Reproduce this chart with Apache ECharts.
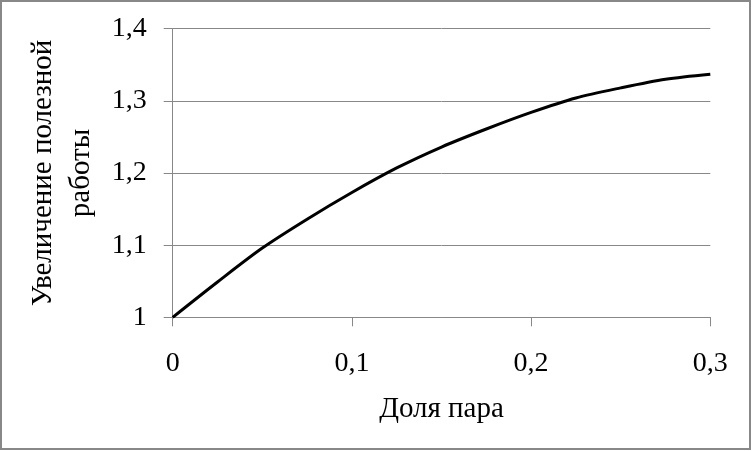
<!DOCTYPE html>
<html>
<head>
<meta charset="utf-8">
<script src="https://cdn.jsdelivr.net/npm/echarts@6/dist/echarts.min.js"></script>
<style>
html,body{margin:0;padding:0;background:#fff;}
#c{width:753px;height:451px;}
</style>
</head>
<body>
<div id="c"></div>
<script>
const xValues = [0, 0.025, 0.05, 0.075, 0.1, 0.125, 0.15, 0.175, 0.2, 0.225, 0.25, 0.275, 0.3];
const yValues = [1.0, 1.049, 1.096, 1.136, 1.173, 1.207, 1.236, 1.261, 1.284, 1.304, 1.318, 1.330, 1.337];
const xTitle = 'Доля пара';
const yTitle = 'Увеличение полезной\nработы';

function fmt(v) {
  return String(parseFloat(v.toFixed(2))).replace('.', ',');
}

const font = '"Liberation Serif", "Times New Roman", serif';
const chart = echarts.init(document.getElementById('c'), null, {renderer: 'canvas'});
chart.setOption({
  animation: false,
  backgroundColor: '#fff',
  textStyle: {fontFamily: font},
  grid: {left: 172.7, right: 42.7, top: 28.7, bottom: 133.7, containLabel: false},
  graphic: [{
    type: 'rect',
    shape: {x: 1, y: 1, width: 749, height: 448},
    style: {fill: 'none', stroke: '#888', lineWidth: 2},
    silent: true
  }],
  xAxis: {
    type: 'value', min: 0, max: 0.3, interval: 0.1,
    name: xTitle, nameLocation: 'middle', nameGap: 78,
    nameTextStyle: {fontFamily: font, fontSize: 29, color: '#000'},
    axisLine: {show: true, lineStyle: {color: '#888', width: 1}},
    axisTick: {show: true, inside: false, length: 9, lineStyle: {color: '#888'}},
    axisLabel: {fontFamily: font, fontSize: 28, color: '#000', margin: 32, formatter: fmt},
    splitLine: {show: false}
  },
  yAxis: {
    type: 'value', min: 1, max: 1.4, interval: 0.1,
    name: yTitle, nameLocation: 'middle', nameGap: 70, nameRotate: 90,
    nameTextStyle: {fontFamily: font, fontSize: 29, color: '#000', lineHeight: 38, align: 'center'},
    axisLine: {show: true, lineStyle: {color: '#888', width: 1}},
    axisTick: {show: true, inside: false, length: 9, lineStyle: {color: '#888'}},
    axisLabel: {fontFamily: font, fontSize: 28, color: '#000', margin: 26, formatter: fmt},
    splitLine: {show: true, lineStyle: {color: '#888', width: 1}}
  },
  series: [{
    type: 'line',
    data: xValues.map((x, i) => [x, yValues[i]]),
    smooth: 0.3,
    symbol: 'none',
    lineStyle: {color: '#000', width: 3},
    clip: false
  }]
});
</script>
</body>
</html>
